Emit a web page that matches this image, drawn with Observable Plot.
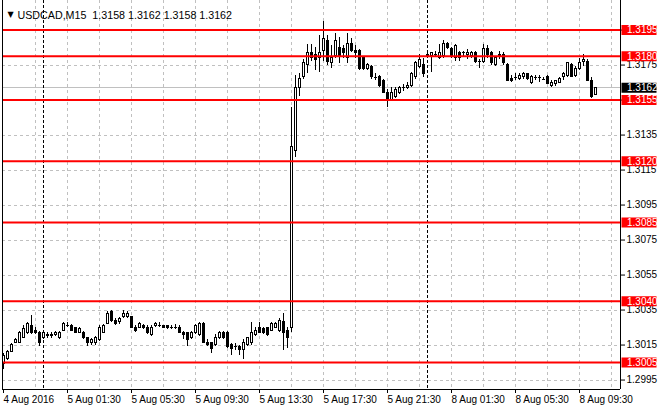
<!DOCTYPE html>
<html><head><meta charset="utf-8">
<script src="https://cdn.jsdelivr.net/npm/d3@7"></script>
<script src="https://cdn.jsdelivr.net/npm/@observablehq/plot@0.6"></script>
<style>html,body{margin:0;padding:0;background:#fff;} #chart svg{display:block;}</style>
</head><body><div id="chart"></div>
<script>
const symbol = "USDCAD";
const timeframe = "M15";

const open = [
1.3004,1.3007,1.3011,1.3016,1.3016,1.3019,1.3022,1.3026,1.3023,1.3022,
1.3019,1.3020,1.3021,1.3021,1.3019,1.3023,1.3026,1.3026,1.3025,1.3022,
1.3022,1.3019,1.3016,1.3016,1.3018,1.3022,1.3027,1.3034,1.3029,1.3028,
1.3031,1.3031,1.3031,1.3025,1.3025,1.3026,1.3025,1.3021,1.3026,1.3026,
1.3026,1.3026,1.3025,1.3025,1.3025,1.3022,1.3022,1.3019,1.3022,1.3021,
1.3027,1.3016,1.3016,1.3015,1.3019,1.3022,1.3022,1.3015,1.3014,1.3014,
1.3012,1.3015,1.3016,1.3021,1.3025,1.3024,1.3025,1.3023,1.3025,1.3023,
1.3028,1.3023,1.3025,1.3126,1.3162,1.3168,1.3175,1.3182,1.3181,1.3179,
1.3183,1.3189,1.3176,1.3180,1.3185,1.3184,1.3179,1.3187,1.3183,1.3183,
1.3179,1.3173,1.3174,1.3168,1.3168,1.3166,1.3159,1.3155,1.3157,1.3159,
1.3162,1.3162,1.3163,1.3168,1.3174,1.3175,1.3181,1.3180,1.3181,1.3179,
1.3180,1.3187,1.3184,1.3179,1.3182,1.3182,1.3181,1.3180,1.3182,1.3177,
1.3177,1.3184,1.3182,1.3175,1.3181,1.3181,1.3175,1.3167,1.3168,1.3167,
1.3168,1.3170,1.3165,1.3168,1.3168,1.3167,1.3168,1.3163,1.3164,1.3165,
1.3168,1.3169,1.3175,1.3169,1.3173,1.3177,1.3177,1.3166,1.3158];

const high = [
1.3010,1.3012,1.3016,1.3019,1.3023,1.3026,1.3028,1.3032,1.3025,1.3023,
1.3023,1.3022,1.3022,1.3023,1.3023,1.3028,1.3028,1.3027,1.3025,1.3025,
1.3023,1.3019,1.3019,1.3020,1.3026,1.3027,1.3034,1.3035,1.3030,1.3031,
1.3035,1.3034,1.3031,1.3026,1.3028,1.3027,1.3026,1.3026,1.3028,1.3028,
1.3026,1.3026,1.3026,1.3027,1.3026,1.3023,1.3022,1.3023,1.3027,1.3028,
1.3028,1.3018,1.3016,1.3021,1.3023,1.3023,1.3023,1.3016,1.3016,1.3015,
1.3018,1.3019,1.3028,1.3025,1.3028,1.3025,1.3025,1.3028,1.3028,1.3030,
1.3033,1.3025,1.3151,1.3169,1.3170,1.3178,1.3187,1.3187,1.3185,1.3192,
1.3200,1.3192,1.3186,1.3193,1.3191,1.3186,1.3193,1.3190,1.3186,1.3184,
1.3180,1.3176,1.3175,1.3170,1.3169,1.3167,1.3161,1.3162,1.3162,1.3163,
1.3164,1.3165,1.3171,1.3177,1.3181,1.3179,1.3182,1.3182,1.3183,1.3187,
1.3189,1.3188,1.3185,1.3187,1.3183,1.3183,1.3184,1.3183,1.3183,1.3178,
1.3187,1.3186,1.3183,1.3180,1.3183,1.3182,1.3176,1.3169,1.3170,1.3170,
1.3171,1.3170,1.3169,1.3169,1.3169,1.3168,1.3169,1.3166,1.3166,1.3168,
1.3171,1.3176,1.3176,1.3174,1.3179,1.3181,1.3178,1.3168,1.3162];

const low = [
1.3001,1.3006,1.3011,1.3016,1.3016,1.3019,1.3021,1.3021,1.3021,1.3014,
1.3018,1.3019,1.3019,1.3020,1.3018,1.3023,1.3025,1.3023,1.3022,1.3022,
1.3018,1.3014,1.3015,1.3015,1.3017,1.3022,1.3027,1.3028,1.3026,1.3027,
1.3030,1.3030,1.3025,1.3022,1.3025,1.3024,1.3021,1.3020,1.3025,1.3025,
1.3025,1.3024,1.3024,1.3024,1.3022,1.3018,1.3014,1.3018,1.3021,1.3020,
1.3016,1.3014,1.3010,1.3014,1.3018,1.3018,1.3013,1.3009,1.3012,1.3009,
1.3007,1.3014,1.3015,1.3020,1.3022,1.3021,1.3020,1.3023,1.3025,1.3022,
1.3012,1.3013,1.3022,1.3122,1.3157,1.3167,1.3170,1.3177,1.3172,1.3171,
1.3177,1.3175,1.3173,1.3179,1.3176,1.3179,1.3176,1.3182,1.3179,1.3172,
1.3172,1.3172,1.3167,1.3166,1.3162,1.3159,1.3151,1.3154,1.3156,1.3158,
1.3160,1.3161,1.3162,1.3167,1.3173,1.3168,1.3179,1.3171,1.3180,1.3178,
1.3179,1.3184,1.3179,1.3177,1.3177,1.3180,1.3178,1.3179,1.3176,1.3173,
1.3176,1.3179,1.3175,1.3174,1.3178,1.3175,1.3166,1.3165,1.3166,1.3166,
1.3167,1.3166,1.3164,1.3166,1.3165,1.3166,1.3164,1.3162,1.3163,1.3165,
1.3166,1.3168,1.3168,1.3168,1.3172,1.3174,1.3166,1.3156,1.3158];

const close = [
1.3009,1.3011,1.3015,1.3018,1.3022,1.3024,1.3027,1.3022,1.3022,1.3016,
1.3022,1.3021,1.3020,1.3022,1.3022,1.3027,1.3026,1.3023,1.3022,1.3024,
1.3019,1.3016,1.3018,1.3019,1.3025,1.3026,1.3033,1.3029,1.3027,1.3030,
1.3033,1.3033,1.3025,1.3023,1.3027,1.3025,1.3022,1.3025,1.3027,1.3026,
1.3025,1.3025,1.3025,1.3025,1.3022,1.3021,1.3018,1.3022,1.3026,1.3027,
1.3016,1.3015,1.3013,1.3019,1.3022,1.3019,1.3014,1.3013,1.3014,1.3012,
1.3016,1.3019,1.3022,1.3023,1.3022,1.3022,1.3021,1.3027,1.3027,1.3029,
1.3022,1.3019,1.3128,1.3162,1.3167,1.3176,1.3182,1.3179,1.3178,1.3182,
1.3190,1.3177,1.3179,1.3189,1.3180,1.3182,1.3187,1.3183,1.3182,1.3173,
1.3173,1.3175,1.3168,1.3168,1.3163,1.3159,1.3155,1.3159,1.3161,1.3162,
1.3162,1.3163,1.3170,1.3176,1.3178,1.3170,1.3180,1.3182,1.3181,1.3182,
1.3187,1.3185,1.3180,1.3186,1.3179,1.3182,1.3182,1.3182,1.3177,1.3177,
1.3184,1.3181,1.3176,1.3179,1.3180,1.3176,1.3166,1.3166,1.3168,1.3169,
1.3170,1.3167,1.3168,1.3168,1.3168,1.3167,1.3164,1.3165,1.3166,1.3167,
1.3170,1.3176,1.3168,1.3173,1.3176,1.3178,1.3166,1.3157,1.3162];

const levels = [1.3195, 1.3180, 1.3155, 1.3120, 1.3085, 1.3040, 1.3005];
const bid = 1.3162;
const yTicks = [1.3195, 1.3175, 1.3155, 1.3135, 1.3115, 1.3095, 1.3075, 1.3055, 1.3035, 1.3015, 1.2995];
const gridIdx = [8,16,24,32,40,48,56,64,72,80,88,96,104,112,120,128,136,144,152];
const labelIdx = [0,16,32,48,64,80,96,112,128,144];
const labelText = ["4 Aug 2016","5 Aug 01:30","5 Aug 05:30","5 Aug 09:30","5 Aug 13:30",
                   "5 Aug 17:30","5 Aug 21:30","8 Aug 01:30","8 Aug 05:30","8 Aug 09:30"];
const daySep = [10, 106];

const bars = open.map((o, i) => ({i, o, h: high[i], l: low[i], c: close[i]}));
const last = bars[bars.length - 1];
const fmt = v => v.toFixed(4);
const titleText = `${symbol},${timeframe}  ${fmt(last.o)} ${fmt(last.h)} ${fmt(last.l)} ${fmt(last.c)}`;

const xDomain = [-0.25, 154.25];
const yDomain = [1.29896, 1.32119];
const xR = xDomain[1];
// pixel snapping: Plot only adds its own half-pixel offset when devicePixelRatio is 1
const px = (window.devicePixelRatio || 1) > 1 ? 0.5 : 0;
const crisp = {dx: px, dy: px, shapeRendering: "crispEdges"};

const chart = Plot.plot({
  width: 660, height: 410,
  marginLeft: 2, marginRight: 40, marginTop: 0, marginBottom: 21,
  x: {domain: xDomain, axis: null},
  y: {domain: yDomain, axis: null},
  style: {fontFamily: "'Liberation Sans', Arial, sans-serif", fontSize: "10px", background: "#fff", color: "#000"},
  marks: [
    Plot.ruleY(yTicks, {y: d => d, stroke: "#c0c0c0", strokeDasharray: "3,3", ...crisp}),
    Plot.ruleX(gridIdx, {x: d => d, stroke: "#c0c0c0", strokeDasharray: "3,3", ...crisp}),
    Plot.ruleY([bid], {y: d => d, stroke: "#c0c0c0", ...crisp}),
    Plot.ruleX(daySep, {x: d => d, stroke: "#000", strokeDasharray: "3,2", ...crisp}),
    Plot.ruleX(bars, {x: "i", y1: "l", y2: "h", stroke: "#000", ...crisp}),
    Plot.rect(bars.filter(d => d.o !== d.c), {
      x1: d => d.i - 0.25, x2: d => d.i + 0.25,
      y1: d => Math.min(d.o, d.c), y2: d => Math.max(d.o, d.c),
      fill: d => d.c > d.o ? "#ffffff" : "#000000", stroke: "#000", ...crisp
    }),
    Plot.ruleY(bars.filter(d => d.o === d.c), {y: "c", x1: d => d.i - 0.375, x2: d => d.i + 0.375, stroke: "#000", ...crisp}),
    Plot.ruleY(levels, {y: d => d, stroke: "#ff0000", strokeWidth: 2}),
    Plot.ruleX([xDomain[0], xDomain[1]], {x: d => d, stroke: "#000", ...crisp}),
    Plot.ruleY([yDomain[0]], {y: d => d, stroke: "#000", ...crisp}),
    Plot.axisY(yTicks, {anchor: "right", tickSize: 4, tickPadding: 2, tickFormat: fmt, label: null, fill: "#000", stroke: "#000"}),
    Plot.axisX(labelIdx, {anchor: "bottom", tickSize: 4, tickPadding: 2, textAnchor: "start", dx: 0,
      tickFormat: d => labelText[labelIdx.indexOf(d)], label: null, fill: "#000", stroke: "#000"}),
    Plot.ruleY([bid], {y: d => d, x1: () => xR + 0.375, x2: () => xR + 9.125, stroke: "#000", strokeWidth: 10}),
    Plot.text([bid], {y: d => d, x: () => xR, text: fmt, textAnchor: "start", dx: 6.5, fill: "#fff"}),
    Plot.ruleY(levels, {y: d => d, x1: () => xR + 0.375, x2: () => xR + 9.125, stroke: "#ff0000", strokeWidth: 10}),
    Plot.text(levels, {y: d => d, x: () => xR, text: fmt, textAnchor: "start", dx: 6.5, fill: "#fff"}),
    Plot.text(["\u25BC"], {frameAnchor: "top-left", dx: 8, dy: 11, textAnchor: "middle", fontSize: 8, fontFamily: "'DejaVu Sans', sans-serif", fill: "#000"}),
    Plot.text([titleText], {frameAnchor: "top-left", dx: 15, dy: 11, textAnchor: "start", fill: "#000", fontSize: 10.7})
  ]
});
document.getElementById("chart").appendChild(chart);
</script>
</body></html>
